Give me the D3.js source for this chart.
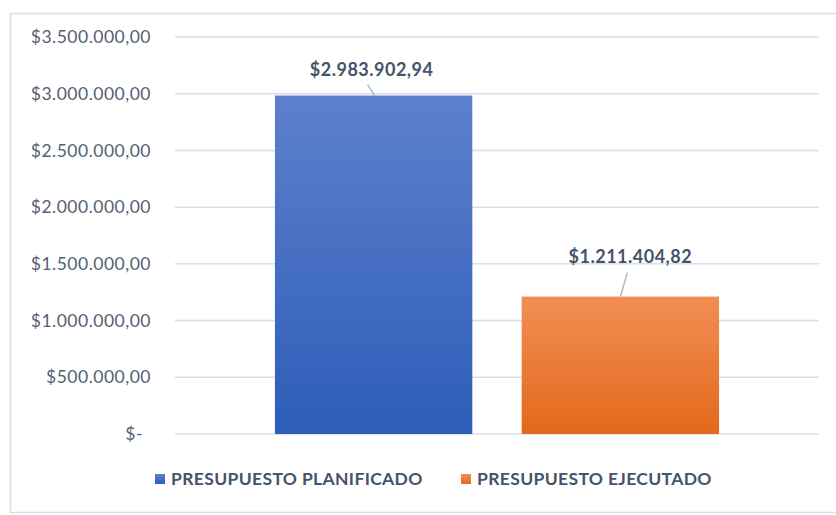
<!DOCTYPE html>
<html lang="es">
<head>
<meta charset="UTF-8">
<title>Presupuesto</title>
<script src="https://d3js.org/d3.v7.min.js"></script>
<style>
  html, body { margin: 0; height: 100%; overflow: hidden; background: #fff; }
  text { font-family: Lato, "Open Sans", sans-serif; }
</style>
</head>
<body>
<svg id="svg"></svg>
<script>
  // data
  const categories = [''];
  const series = ['PRESUPUESTO PLANIFICADO', 'PRESUPUESTO EJECUTADO'];
  const values = [2983902.94, 1211404.82];
  const valueLabels = ['$2.983.902,94', '$1.211.404,82'];
  const tickValues = [0, 500000, 1000000, 1500000, 2000000, 2500000, 3000000, 3500000];
  const tickLabels = ['$-', '$500.000,00', '$1.000.000,00', '$1.500.000,00', '$2.000.000,00',
                      '$2.500.000,00', '$3.000.000,00', '$3.500.000,00'];

  const width = 836, height = 515;
  const svg = d3.select('#svg').attr('width', width).attr('height', height);
  const margin = { top: 37, left: 175, right: 17, bottom: 81 };
  const innerW = width - margin.left - margin.right;
  const innerH = height - margin.top - margin.bottom;

  // chart border
  svg.append('rect')
    .attr('x', 10.5).attr('y', 13.5).attr('width', 840).attr('height', 499)
    .attr('fill', 'none').attr('stroke', '#D9DEE7').attr('stroke-width', 1.5);

  const defs = svg.append('defs');
  const grads = [['#5D80CC', '#2D5DB8'], ['#F28E55', '#E2691B']];
  grads.forEach((c, i) => {
    const g = defs.append('linearGradient').attr('id', 'grad' + i)
      .attr('x1', 0).attr('y1', 0).attr('x2', 0).attr('y2', 1);
    g.append('stop').attr('offset', '0%').attr('stop-color', c[0]);
    g.append('stop').attr('offset', '100%').attr('stop-color', c[1]);
  });

  const g = svg.append('g').attr('transform', `translate(${margin.left},${margin.top})`);

  const y = d3.scaleLinear().domain([0, 3500000]).range([innerH, 0]);
  const x0 = d3.scaleBand().domain(categories).range([0, innerW]);
  const x1 = d3.scaleBand().domain(series).range([0, x0.bandwidth()])
    .paddingInner(0.2).paddingOuter(0.405);

  // gridlines
  g.selectAll('.grid').data(tickValues).join('line')
    .attr('class', 'grid')
    .attr('x1', 0).attr('x2', innerW)
    .attr('y1', d => y(d)).attr('y2', d => y(d))
    .attr('stroke', '#D9DEE7').attr('stroke-width', 1.5);

  // y axis labels
  const yAxis = g.append('g')
    .call(d3.axisLeft(y).tickValues(tickValues).tickSize(0).tickPadding(24)
      .tickFormat((d, i) => tickLabels[i]));
  yAxis.select('.domain').remove();
  yAxis.selectAll('text')
    .attr('font-family', 'Lato, sans-serif')
    .attr('font-size', 17.5).attr('fill', '#556173')
    .attr('letter-spacing', 0.5)
    .attr('dx', d => d === 0 ? -8 : 0);

  // bars
  const barData = series.map((s, i) => ({ s, v: values[i], i }));
  const bars = g.selectAll('.cat').data(categories).join('g')
    .attr('transform', d => `translate(${x0(d)},0)`);
  bars.selectAll('rect').data(barData).join('rect')
    .attr('x', d => x1(d.s))
    .attr('width', x1.bandwidth())
    .attr('y', d => y(d.v))
    .attr('height', d => innerH - y(d.v))
    .attr('fill', d => `url(#grad${d.i})`);

  // data labels with leader lines (offsets relative to bar top centre)
  const labelPos = [[-2, -20], [10, -34]];
  const leaderStart = [[-6, -11], [7, -24]];
  const cx = d => x1(d.s) + x1.bandwidth() / 2;
  const lbl = bars.selectAll('.lbl').data(barData).join('g');
  lbl.append('line')
    .attr('x1', d => cx(d) + leaderStart[d.i][0])
    .attr('y1', d => y(d.v) + leaderStart[d.i][1])
    .attr('x2', d => cx(d) + (d.i === 0 ? 1 : 0))
    .attr('y2', d => y(d.v))
    .attr('stroke', '#ADB9CA').attr('stroke-width', 1.5);
  lbl.append('text')
    .attr('x', d => cx(d) + labelPos[d.i][0])
    .attr('y', d => y(d.v) + labelPos[d.i][1])
    .attr('text-anchor', 'middle')
    .attr('font-size', 18).attr('font-weight', 'bold').attr('fill', '#44546A')
    .attr('letter-spacing', 0.5)
    .text(d => valueLabels[d.i]);

  // legend
  const legendX = [155, 461];
  const legend = svg.selectAll('.legend').data(series).join('g')
    .attr('transform', (d, i) => `translate(${legendX[i]},474)`);
  legend.append('rect').attr('width', 10).attr('height', 10)
    .attr('fill', (d, i) => `url(#grad${i})`);
  legend.append('text')
    .attr('x', 16).attr('y', 11)
    .attr('font-size', 17.5).attr('font-weight', 'bold').attr('fill', '#44546A')
    .attr('letter-spacing', 0.35)
    .text(d => d);
</script>
</body>
</html>
